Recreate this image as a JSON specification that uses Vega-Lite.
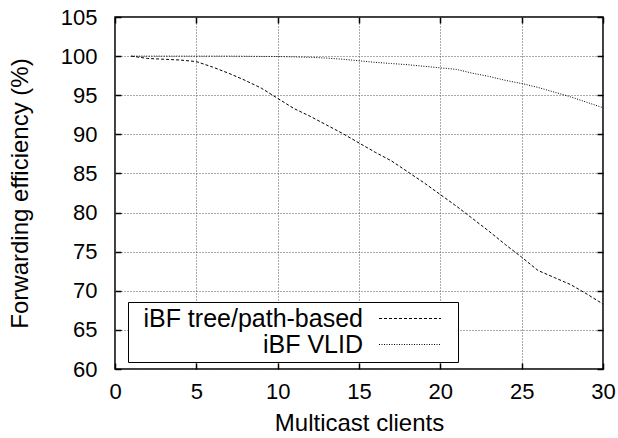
{
  "$schema": "https://vega.github.io/schema/vega-lite/v6.json",
  "width": 488,
  "height": 352,
  "autosize": "none",
  "padding": {"left": 115, "top": 17, "right": 15, "bottom": 69},
  "background": "white",
  "config": {
    "font": "Liberation Sans",
    "view": {"stroke": "black", "strokeWidth": 1.5},
    "axis": {
      "labelFont": "Liberation Sans",
      "titleFont": "Liberation Sans",
      "labelColor": "black",
      "titleColor": "black",
      "labelFontSize": 22,
      "titleFontSize": 24,
      "titleFontWeight": "normal",
      "domain": false,
      "tickColor": "black",
      "tickWidth": 1.5,
      "tickSize": -6,
      "gridColor": "#555",
      "gridDash": [1, 2],
      "gridWidth": 1,
      "gridOpacity": 1
    },
    "legend": {
      "labelFont": "Liberation Sans",
      "labelFontSize": 25,
      "labelColor": "black"
    }
  },
  "data": {
    "values": [
      {"clients": 1, "efficiency": 100.0, "series": "iBF tree/path-based"},
      {"clients": 2, "efficiency": 99.7, "series": "iBF tree/path-based"},
      {"clients": 3, "efficiency": 99.6, "series": "iBF tree/path-based"},
      {"clients": 4, "efficiency": 99.5, "series": "iBF tree/path-based"},
      {"clients": 5, "efficiency": 99.3, "series": "iBF tree/path-based"},
      {"clients": 6, "efficiency": 98.6, "series": "iBF tree/path-based"},
      {"clients": 7, "efficiency": 97.8, "series": "iBF tree/path-based"},
      {"clients": 8, "efficiency": 96.9, "series": "iBF tree/path-based"},
      {"clients": 9, "efficiency": 95.9, "series": "iBF tree/path-based"},
      {"clients": 10, "efficiency": 94.6, "series": "iBF tree/path-based"},
      {"clients": 11, "efficiency": 93.3, "series": "iBF tree/path-based"},
      {"clients": 12, "efficiency": 92.3, "series": "iBF tree/path-based"},
      {"clients": 13, "efficiency": 91.2, "series": "iBF tree/path-based"},
      {"clients": 14, "efficiency": 90.1, "series": "iBF tree/path-based"},
      {"clients": 15, "efficiency": 88.9, "series": "iBF tree/path-based"},
      {"clients": 16, "efficiency": 87.7, "series": "iBF tree/path-based"},
      {"clients": 17, "efficiency": 86.6, "series": "iBF tree/path-based"},
      {"clients": 18, "efficiency": 85.2, "series": "iBF tree/path-based"},
      {"clients": 19, "efficiency": 83.8, "series": "iBF tree/path-based"},
      {"clients": 20, "efficiency": 82.3, "series": "iBF tree/path-based"},
      {"clients": 21, "efficiency": 80.8, "series": "iBF tree/path-based"},
      {"clients": 22, "efficiency": 79.2, "series": "iBF tree/path-based"},
      {"clients": 23, "efficiency": 77.6, "series": "iBF tree/path-based"},
      {"clients": 24, "efficiency": 75.9, "series": "iBF tree/path-based"},
      {"clients": 25, "efficiency": 74.3, "series": "iBF tree/path-based"},
      {"clients": 26, "efficiency": 72.6, "series": "iBF tree/path-based"},
      {"clients": 27, "efficiency": 71.7, "series": "iBF tree/path-based"},
      {"clients": 28, "efficiency": 70.8, "series": "iBF tree/path-based"},
      {"clients": 29, "efficiency": 69.6, "series": "iBF tree/path-based"},
      {"clients": 30, "efficiency": 68.3, "series": "iBF tree/path-based"},
      {"clients": 1, "efficiency": 100.0, "series": "iBF VLID"},
      {"clients": 2, "efficiency": 100.0, "series": "iBF VLID"},
      {"clients": 3, "efficiency": 100.0, "series": "iBF VLID"},
      {"clients": 4, "efficiency": 100.0, "series": "iBF VLID"},
      {"clients": 5, "efficiency": 100.0, "series": "iBF VLID"},
      {"clients": 6, "efficiency": 100.0, "series": "iBF VLID"},
      {"clients": 7, "efficiency": 100.0, "series": "iBF VLID"},
      {"clients": 8, "efficiency": 99.98, "series": "iBF VLID"},
      {"clients": 9, "efficiency": 99.96, "series": "iBF VLID"},
      {"clients": 10, "efficiency": 99.95, "series": "iBF VLID"},
      {"clients": 11, "efficiency": 99.9, "series": "iBF VLID"},
      {"clients": 12, "efficiency": 99.85, "series": "iBF VLID"},
      {"clients": 13, "efficiency": 99.75, "series": "iBF VLID"},
      {"clients": 14, "efficiency": 99.6, "series": "iBF VLID"},
      {"clients": 15, "efficiency": 99.4, "series": "iBF VLID"},
      {"clients": 16, "efficiency": 99.2, "series": "iBF VLID"},
      {"clients": 17, "efficiency": 99.05, "series": "iBF VLID"},
      {"clients": 18, "efficiency": 98.9, "series": "iBF VLID"},
      {"clients": 19, "efficiency": 98.7, "series": "iBF VLID"},
      {"clients": 20, "efficiency": 98.5, "series": "iBF VLID"},
      {"clients": 21, "efficiency": 98.3, "series": "iBF VLID"},
      {"clients": 22, "efficiency": 97.8, "series": "iBF VLID"},
      {"clients": 23, "efficiency": 97.4, "series": "iBF VLID"},
      {"clients": 24, "efficiency": 96.9, "series": "iBF VLID"},
      {"clients": 25, "efficiency": 96.5, "series": "iBF VLID"},
      {"clients": 26, "efficiency": 96.0, "series": "iBF VLID"},
      {"clients": 27, "efficiency": 95.4, "series": "iBF VLID"},
      {"clients": 28, "efficiency": 94.8, "series": "iBF VLID"},
      {"clients": 29, "efficiency": 94.1, "series": "iBF VLID"},
      {"clients": 30, "efficiency": 93.4, "series": "iBF VLID"}
    ]
  },
  "layer": [
    {
      "mark": {"type": "line", "color": "black", "strokeWidth": 1, "clip": true},
      "encoding": {
        "x": {
          "field": "clients", "type": "quantitative",
          "scale": {"domain": [0, 30], "nice": false, "zero": false},
          "axis": {"orient": "bottom", "values": [0, 5, 10, 15, 20, 25, 30], "title": "Multicast clients", "labelPadding": 18, "titlePadding": 9, "labelFlush": false}
        },
        "y": {
          "field": "efficiency", "type": "quantitative",
          "scale": {"domain": [60, 105], "nice": false, "zero": false},
          "axis": {"orient": "left", "values": [60, 65, 70, 75, 80, 85, 90, 95, 100, 105], "title": "Forwarding efficiency (%)", "labelPadding": 24, "titlePadding": 28}
        },
        "strokeDash": {
          "field": "series", "type": "nominal",
          "scale": {"domain": ["iBF tree/path-based", "iBF VLID"], "range": [[3, 2], [1, 1.5]]},
          "legend": {
            "title": null,
            "orient": "none",
            "legendX": 13,
            "legendY": 285,
            "symbolType": "M-3,0H3M4,0",
            "symbolSize": 427,
            "symbolStrokeWidth": 1,
            "symbolStrokeColor": "black",
            "symbolFillColor": "transparent",
            "labelAlign": "right",
            "labelOffset": -59.5,
            "symbolOffset": 265.5,
            "labelLimit": 400,
            "rowPadding": 0,
            "strokeColor": "black",
            "fillColor": "white",
            "padding": 4
          }
        }
      }
    },
    {
      "mark": {"type": "line", "strokeOpacity": 0},
      "encoding": {
        "x": {
          "field": "clients", "type": "quantitative",
          "axis": {"orient": "top", "values": [0, 5, 10, 15, 20, 25, 30], "labels": false, "title": null, "grid": false}
        },
        "y": {
          "field": "efficiency", "type": "quantitative",
          "axis": {"orient": "right", "values": [60, 65, 70, 75, 80, 85, 90, 95, 100, 105], "labels": false, "title": null, "grid": false}
        },
        "detail": {"field": "series"}
      }
    }
  ],
  "resolve": {"axis": {"x": "independent", "y": "independent"}}
}
